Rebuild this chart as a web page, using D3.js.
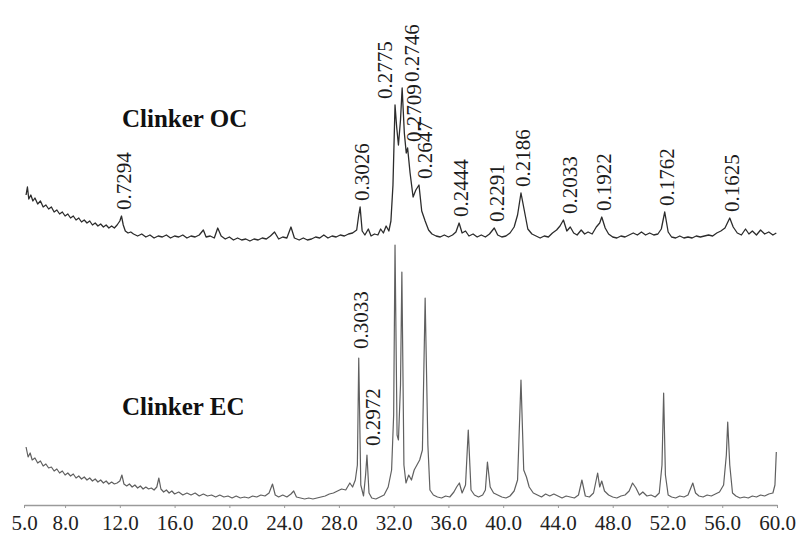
<!DOCTYPE html>
<html>
<head>
<meta charset="utf-8">
<script src="https://cdn.jsdelivr.net/npm/d3@7"></script>
<style>
  body { margin: 0; background: #fff; }
  svg { display: block; font-family: "Liberation Serif", "Times New Roman", serif; }
</style>
</head>
<body>
<div class="chart"></div>
<script>
// XRD patterns, [2theta, relative intensity]
var ocTrace = [
  [5.15,50],[5.25,58],[5.35,46],[5.5,50],[5.65,44],[5.8,47],[6.0,41],[6.2,44],[6.4,38],[6.6,40],
  [6.8,36],[7.0,38],[7.2,33],[7.4,35],[7.6,31],[7.8,33],[8.0,29],[8.2,31],[8.4,27],[8.6,29],
  [8.8,25],[9.0,27],[9.2,23],[9.4,25],[9.6,22],[9.8,24],[10.0,20],[10.2,22],[10.4,19],[10.6,21],
  [10.8,18],[11.0,20],[11.2,17],[11.4,19],[11.6,17],[11.8,20],[12.0,24],[12.12,29],[12.25,20],[12.4,14],
  [12.6,12],[12.8,13],[13.0,11],[13.3,9],[13.6,11],[13.9,8],[14.2,10],[14.5,7],[14.8,9],[15.1,8],
  [15.4,10],[15.7,7],[16.0,9],[16.3,8],[16.6,10],[16.9,7],[17.2,9],[17.5,8],[17.8,10],[18.1,15],
  [18.3,8],[18.6,9],[18.9,7],[19.15,17],[19.4,9],[19.7,6],[20.0,8],[20.3,5],[20.6,7],[20.9,5],
  [21.2,6],[21.5,4],[21.8,6],[22.1,5],[22.4,7],[22.7,6],[23.0,9],[23.3,13],[23.6,6],[23.9,8],
  [24.2,7],[24.5,18],[24.75,7],[25.1,5],[25.4,7],[25.7,5],[26.0,6],[26.3,8],[26.6,7],[26.9,10],
  [27.2,7],[27.5,9],[27.8,8],[28.1,10],[28.4,9],[28.7,11],[29.0,12],[29.3,15],[29.45,30],[29.55,38],
  [29.7,14],[29.9,10],[30.15,16],[30.35,9],[30.6,11],[30.85,10],[31.05,16],[31.25,12],[31.45,19],[31.65,14],
  [31.8,24],[31.95,60],[32.1,140],[32.22,118],[32.35,100],[32.5,125],[32.62,157],[32.78,112],[32.92,92],[33.02,97],
  [33.2,72],[33.42,48],[33.62,55],[33.85,60],[34.05,34],[34.3,24],[34.55,15],[34.8,11],[35.1,9],[35.4,8],
  [35.7,10],[36.0,8],[36.3,10],[36.55,13],[36.78,22],[37.0,12],[37.25,14],[37.5,9],[37.8,11],[38.1,8],
  [38.4,10],[38.7,8],[39.0,11],[39.35,17],[39.6,10],[39.9,8],[40.2,9],[40.5,12],[40.8,18],[41.05,30],
  [41.3,52],[41.55,34],[41.8,16],[42.1,11],[42.4,9],[42.7,7],[43.0,9],[43.3,8],[43.6,12],[43.9,15],
  [44.15,19],[44.4,25],[44.65,14],[44.9,18],[45.15,12],[45.4,10],[45.7,15],[45.95,11],[46.2,13],[46.5,11],
  [46.8,18],[47.05,22],[47.2,28],[47.45,17],[47.7,11],[48.0,8],[48.3,7],[48.6,9],[48.9,8],[49.2,10],
  [49.5,12],[49.8,10],[50.1,13],[50.4,10],[50.7,12],[51.0,10],[51.3,11],[51.55,16],[51.8,33],[52.05,13],
  [52.3,8],[52.6,7],[52.9,9],[53.2,7],[53.5,8],[53.8,7],[54.1,9],[54.4,8],[54.7,9],[55.0,10],
  [55.3,9],[55.6,12],[55.9,14],[56.2,17],[56.55,27],[56.8,18],[57.1,12],[57.4,10],[57.7,16],[57.95,11],
  [58.2,14],[58.5,10],[58.8,15],[59.1,11],[59.4,13],[59.7,10],[59.95,12]
];

var ecTrace = [
  [5.15,58],[5.3,48],[5.45,52],[5.6,45],[5.8,47],[6.0,42],[6.2,44],[6.4,39],[6.6,41],[6.8,37],
  [7.0,38],[7.2,34],[7.4,36],[7.6,32],[7.8,34],[8.0,30],[8.2,32],[8.4,29],[8.6,31],[8.8,27],
  [9.0,29],[9.2,26],[9.4,28],[9.6,25],[9.8,27],[10.0,24],[10.2,26],[10.4,23],[10.6,25],[10.8,22],
  [11.0,24],[11.2,21],[11.4,23],[11.6,21],[11.8,22],[12.0,24],[12.15,30],[12.3,21],[12.5,19],[12.7,21],
  [12.9,18],[13.1,20],[13.3,17],[13.5,19],[13.7,16],[13.9,18],[14.1,16],[14.3,17],[14.5,15],[14.7,18],
  [14.85,27],[15.0,16],[15.2,13],[15.4,15],[15.6,12],[15.8,14],[16.0,11],[16.3,13],[16.6,10],[16.9,12],
  [17.2,10],[17.5,12],[17.8,9],[18.1,11],[18.4,9],[18.7,10],[19.0,8],[19.3,10],[19.6,8],[19.9,9],
  [20.2,7],[20.5,9],[20.8,7],[21.1,8],[21.4,7],[21.7,9],[22.0,8],[22.3,10],[22.6,9],[22.9,12],
  [23.15,21],[23.35,10],[23.6,8],[23.9,10],[24.2,8],[24.5,11],[24.7,14],[24.9,8],[25.2,7],[25.5,6],
  [25.8,7],[26.1,6],[26.4,7],[26.7,8],[27.0,9],[27.3,11],[27.6,12],[27.9,14],[28.2,16],[28.5,15],
  [28.8,22],[29.0,18],[29.2,25],[29.35,40],[29.45,147],[29.6,20],[29.8,9],[29.95,30],[30.05,50],[30.2,12],
  [30.4,7],[30.7,6],[31.0,8],[31.3,10],[31.6,18],[31.85,35],[32.0,90],[32.1,260],[32.25,70],[32.35,65],
  [32.5,120],[32.6,233],[32.75,40],[32.9,22],[33.1,30],[33.3,25],[33.5,35],[33.7,40],[33.9,45],[34.1,55],
  [34.3,207],[34.5,60],[34.65,15],[34.9,10],[35.2,8],[35.5,7],[35.8,9],[36.1,8],[36.4,13],[36.6,18],
  [36.8,22],[37.0,12],[37.25,20],[37.45,75],[37.65,15],[37.9,10],[38.2,8],[38.5,10],[38.7,15],[38.85,43],
  [39.05,18],[39.3,12],[39.6,10],[39.9,8],[40.2,7],[40.5,9],[40.8,14],[41.05,25],[41.3,125],[41.5,35],
  [41.7,28],[41.9,18],[42.2,12],[42.5,10],[42.8,8],[43.1,11],[43.4,9],[43.7,11],[44.0,9],[44.3,7],
  [44.6,9],[44.9,8],[45.2,7],[45.5,10],[45.75,25],[46.0,9],[46.3,8],[46.6,12],[46.9,32],[47.05,18],
  [47.2,24],[47.4,14],[47.7,10],[48.0,8],[48.3,7],[48.6,9],[48.9,10],[49.2,14],[49.45,22],[49.7,17],
  [49.95,10],[50.2,13],[50.5,9],[50.8,10],[51.1,8],[51.4,12],[51.6,40],[51.72,112],[51.85,30],[52.05,10],
  [52.3,8],[52.6,7],[52.9,9],[53.2,8],[53.5,10],[53.85,22],[54.05,12],[54.3,9],[54.6,8],[54.9,10],
  [55.2,9],[55.5,11],[55.8,13],[56.1,20],[56.3,50],[56.4,83],[56.55,40],[56.75,12],[57.0,9],[57.3,7],
  [57.6,8],[57.9,7],[58.2,9],[58.5,8],[58.8,10],[59.1,9],[59.4,11],[59.7,12],[59.85,20],[59.95,53]
];

// d-spacing labels (nm) and the 2theta of the peak they mark
var ocPeaks = [
  ["0.7294",12.12],["0.3026",29.55],["0.2775",32.1],["0.2746",32.62],["0.2709",33.02],["0.2647",33.85],
  ["0.2444",36.78],["0.2291",39.35],["0.2186",41.3],["0.2033",44.4],["0.1922",47.2],["0.1762",51.8],["0.1625",56.55]
];
var ecPeaks = [["0.3033",29.45],["0.2972",30.05]];

var tickValues = [5, 8, 12, 16, 20, 24, 28, 32, 36, 40, 44, 48, 52, 56, 60];
var seriesNames = ["Clinker OC", "Clinker EC"];

var svgWidth = 804;
var svgHeight = 537;

var svg = d3.select(".chart")
  .append("svg")
  .attr("width", svgWidth)
  .attr("height", svgHeight);

var xScale = d3.scaleLinear().domain([5, 60]).range([24, 777]);
// each pattern gets its own vertical band
var yOC = d3.scaleLinear().domain([0, 150]).range([245, 95]);
var yEC = d3.scaleLinear().domain([0, 300]).range([505, 205]);

// small sideways nudges so the crowded labels don't sit on top of each other
var labelShift = { "0.2775": -10, "0.2746": 9, "0.2709": 6, "0.2647": 6, "0.2033": 6, "0.2972": 6 };

function drawPattern(trace, yScale, color, width) {
  var line = d3.line()
    .x(d => xScale(d[0]))
    .y(d => yScale(d[1]));
  svg.append("path")
    .attr("d", line(trace))
    .attr("fill", "none")
    .attr("stroke", color)
    .attr("stroke-width", width)
    .attr("stroke-linejoin", "round");
}

function drawPeakLabels(peaks, trace, yScale, gap) {
  peaks.forEach(function(p) {
    var top = d3.max(trace.filter(d => Math.abs(d[0] - p[1]) <= 0.06), d => d[1]);
    var px = xScale(p[1]) + (labelShift[p[0]] || 2);
    var py = yScale(top) - gap;
    svg.append("text")
      .attr("transform", `translate(${px}, ${py}) rotate(-90)`)
      .attr("dy", "0.35em")
      .attr("font-size", "21px")
      .attr("fill", "#1a1a1a")
      .text(p[0]);
  });
}

// bottom axis
var axis = svg.append("g")
  .attr("transform", "translate(0, 505)")
  .call(d3.axisBottom(xScale)
    .tickValues(tickValues)
    .tickSize(3)
    .tickSizeOuter(0)
    .tickPadding(7)
    .tickFormat(d3.format(".1f")));
axis.select(".domain").attr("stroke", "#9a9a9a").attr("stroke-width", 1.5);
axis.selectAll(".tick line").attr("stroke", "#9a9a9a");
axis.selectAll("text")
  .attr("font-family", "'Liberation Serif', 'Times New Roman', serif")
  .attr("font-size", "21px")
  .attr("fill", "#222");

drawPattern(ecTrace, yEC, "#606060", 1.2);
drawPattern(ocTrace, yOC, "#2c2c2c", 1.3);

drawPeakLabels(ocPeaks, ocTrace, yOC, 6);
drawPeakLabels(ecPeaks, ecTrace, yEC, 9);

// series names
svg.append("text")
  .attr("x", 122).attr("y", 127)
  .attr("font-size", "25px").attr("font-weight", "bold").attr("fill", "#111")
  .text(seriesNames[0]);
svg.append("text")
  .attr("x", 122).attr("y", 415)
  .attr("font-size", "25px").attr("font-weight", "bold").attr("fill", "#111")
  .text(seriesNames[1]);
</script>
</body>
</html>
